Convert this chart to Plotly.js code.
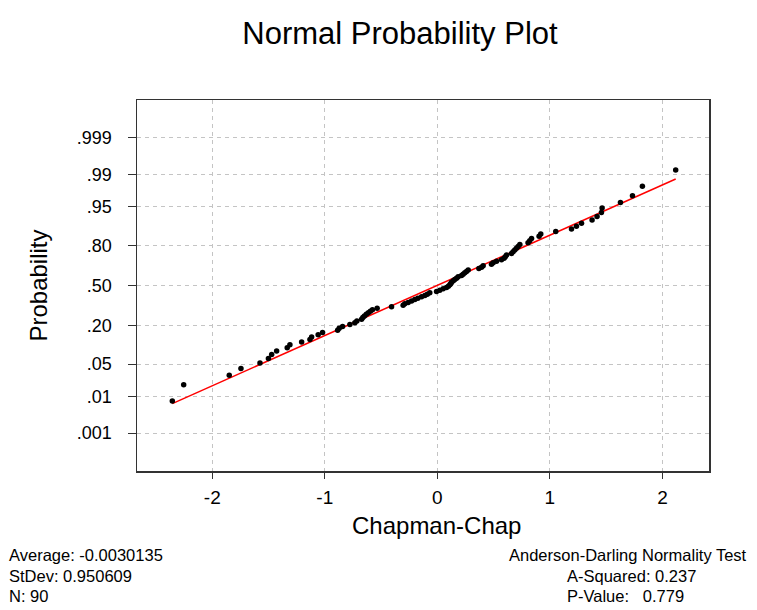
<!DOCTYPE html>
<html><head><meta charset="utf-8">
<script src="https://cdn.plot.ly/plotly-3.0.1.min.js"></script>
<style>html,body{margin:0;padding:0;background:#fff;}#chart{width:757px;height:610px;}</style>
</head><body><div id="chart"></div>
<script>
const chartTitle = 'Normal Probability Plot';
const xLabel = 'Chapman-Chap';
const yLabel = 'Probability';
const values = [
 -2.355,-2.254,-1.849,-1.745,-1.576,-1.501,-1.472,-1.428,-1.334,-1.310,
 -1.206,-1.132,-1.117,-1.059,-1.020,-0.886,-0.872,-0.842,-0.777,-0.733,
 -0.715,-0.673,-0.662,-0.648,-0.631,-0.613,-0.595,-0.577,-0.535,-0.407,
 -0.304,-0.289,-0.259,-0.229,-0.200,-0.173,-0.140,-0.111,-0.089,-0.067,
 -0.007,0.022,0.052,0.082,0.098,0.111,0.120,0.126,0.142,0.155,
 0.171,0.185,0.215,0.229,0.244,0.259,0.274,0.369,0.393,0.407,
 0.481,0.496,0.526,0.570,0.593,0.604,0.615,0.659,0.673,0.688,
 0.703,0.718,0.733,0.806,0.821,0.837,0.904,0.919,1.052,1.192,
 1.236,1.281,1.375,1.419,1.458,1.464,1.627,1.734,1.822,2.118
];
const meanValue = -0.0030135;
const sdValue = 0.950609;
const probTicks = [0.001,0.01,0.05,0.20,0.50,0.80,0.95,0.99,0.999];
const probTickLabels = ['.001','.01','.05','.20','.50','.80','.95','.99','.999'];
const xTicks = [-2,-1,0,1,2];
const xTickLabels = ['-2','-1','0','1','2'];
const statsLeft = ['Average: -0.0030135','StDev: 0.950609','N: 90'];
const statsRightHead = 'Anderson-Darling Normality Test';
const statsRight = ['A-Squared: 0.237','P-Value:\u00a0\u00a0\u00a00.779'];

function invNorm(p){
 const a=[-3.969683028665376e+01,2.209460984245205e+02,-2.759285104469687e+02,1.383577518672690e+02,-3.066479806614716e+01,2.506628277459239e+00];
 const b=[-5.447609879822406e+01,1.615858368580409e+02,-1.556989798598866e+02,6.680131188771972e+01,-1.328068155288572e+01];
 const c=[-7.784894002430293e-03,-3.223964580411365e-01,-2.400758277161838e+00,-2.549732539343734e+00,4.374664141464968e+00,2.938163982698783e+00];
 const d=[7.784695709041462e-03,3.224671290700398e-01,2.445134137142996e+00,3.754408661907416e+00];
 const pl=0.02425, ph=1-pl; let q,r;
 if(p<pl){q=Math.sqrt(-2*Math.log(p));return (((((c[0]*q+c[1])*q+c[2])*q+c[3])*q+c[4])*q+c[5])/((((d[0]*q+d[1])*q+d[2])*q+d[3])*q+1);}
 if(p<=ph){q=p-0.5;r=q*q;return (((((a[0]*r+a[1])*r+a[2])*r+a[3])*r+a[4])*r+a[5])*q/(((((b[0]*r+b[1])*r+b[2])*r+b[3])*r+b[4])*r+1);}
 q=Math.sqrt(-2*Math.log(1-p));return -(((((c[0]*q+c[1])*q+c[2])*q+c[3])*q+c[4])*q+c[5])/((((d[0]*q+d[1])*q+d[2])*q+d[3])*q+1);
}

const sorted = values.slice().sort((a,b)=>a-b);
const n = sorted.length;
// median-rank plotting positions mapped to the normal-score scale
const normalScores = sorted.map((v,i)=>invNorm((i+1-0.3)/(n+0.4)));
const probText = sorted.map((v,i)=>((i+1-0.3)/(n+0.4)).toFixed(3));
const xmin = sorted[0], xmax = sorted[n-1];
const lineX = [xmin, xmax];
const lineY = lineX.map(v=>(v-meanValue)/sdValue);

const FONT = '"Liberation Sans", Arial, Helvetica, sans-serif';
const L=137, R=709.3, T=100, B=471;
const px = x => (x-L)/(R-L);
const py = y => (B-y)/(B-T);

const annotations = [];
annotations.push({text:xLabel, xref:'paper', yref:'paper', x:px(437), y:py(525), xanchor:'center', yanchor:'middle', showarrow:false, font:{family:FONT,size:24,color:'#000'}});
statsLeft.forEach((t,i)=>annotations.push({text:t, xref:'paper', yref:'paper', x:px(7), y:py(555+i*20.5), xanchor:'left', yanchor:'middle', showarrow:false, font:{family:FONT,size:16.5,color:'#000'}}));
annotations.push({text:statsRightHead, xref:'paper', yref:'paper', x:px(749), y:py(555), xanchor:'right', yanchor:'middle', showarrow:false, font:{family:FONT,size:16.5,color:'#000'}});
statsRight.forEach((t,i)=>annotations.push({text:t, xref:'paper', yref:'paper', x:px(565), y:py(575.5+i*20.5), xanchor:'left', yanchor:'middle', showarrow:false, font:{family:FONT,size:16.5,color:'#000'}}));

const traces = [
 {x:lineX, y:lineY, type:'scatter', mode:'lines', line:{color:'#ff0000', width:1.5}, hoverinfo:'skip', showlegend:false},
 {x:sorted, y:normalScores, text:probText, type:'scatter', mode:'markers', marker:{color:'#000', size:5.5}, showlegend:false, hovertemplate:'%{x}<br>p=%{text}<extra></extra>'}
];

const layout = {
 width:757, height:610,
 paper_bgcolor:'#fff', plot_bgcolor:'#fff',
 margin:{l:L, r:757-R, t:T, b:610-B, pad:0},
 font:{family:FONT, color:'#000'},
 title:{text:chartTitle, x:400/757, xref:'container', xanchor:'center', y:1-33/610, yref:'container', yanchor:'middle', font:{family:FONT,size:31,color:'#000'}},
 showlegend:false,
 xaxis:{range:[(L-437.5)/112.6,(R-437.5)/112.6], tickvals:xTicks, ticktext:xTickLabels, showgrid:true, gridcolor:'#c4c4c4', griddash:'4px,4px', gridwidth:1,
   zeroline:false, showline:true, mirror:true, linecolor:'#333', linewidth:1.5, ticks:'outside', ticklen:6, tickcolor:'#333', tickwidth:1,
   tickfont:{family:FONT,size:19,color:'#000'}, ticklabelstandoff:3, fixedrange:true},
 yaxis:{range:[-3.886,3.886], tickvals:probTicks.map(invNorm), ticktext:probTickLabels, showgrid:true, gridcolor:'#c4c4c4', griddash:'4px,4px', gridwidth:1,
   zeroline:false, showline:true, mirror:true, linecolor:'#333', linewidth:1.5, ticks:'outside', ticklen:8, tickcolor:'#333', tickwidth:1,
   tickfont:{family:FONT,size:18,color:'#000'}, ticklabelstandoff:12,
   title:{text:yLabel, font:{family:FONT,size:24,color:'#000'}, standoff:22}, automargin:false, fixedrange:true},
 annotations:annotations
};
Plotly.newPlot('chart', traces, layout, {displayModeBar:false, staticPlot:true});
</script>
</body></html>
